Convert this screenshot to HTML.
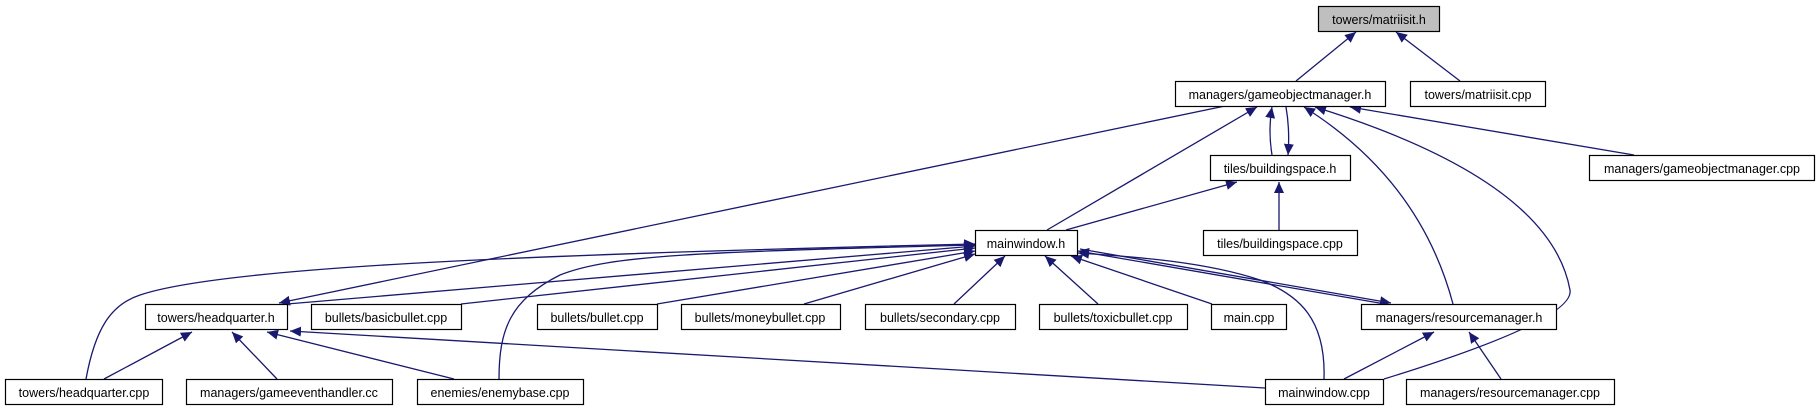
<!DOCTYPE html>
<html><head><meta charset="utf-8"><style>
html,body{margin:0;padding:0;background:#fff;}
svg{display:block;}
text{font-family:"Liberation Sans",sans-serif;font-size:12.5px;fill:#000;}
</style></head><body>
<svg width="1819" height="411" viewBox="0 0 1819 411" xmlns="http://www.w3.org/2000/svg">
<defs>
<marker id="a" markerWidth="12" markerHeight="10" refX="11" refY="5" orient="auto" markerUnits="userSpaceOnUse">
<path d="M0,0 L11,5 L0,10 Z" fill="#191970"/>
</marker>
</defs>
<g fill="none" stroke="#191970" stroke-width="1.3" marker-end="url(#a)">
<path d="M1296,81 L1356,32"/>
<path d="M1460,81 L1396,32"/>
<path d="M1225,106 L279,303"/>
<path d="M1047,230 L1257,107"/>
<path d="M1272,155 Q1268,130 1272,107"/>
<path d="M1286,107 Q1290,130 1288,155"/>
<path d="M1453,304 Q1420,180 1304,107"/>
<path d="M1384,379 Q1575,320 1570,290 Q1550,180 1315,107"/>
<path d="M1634,155 L1350,107"/>
<path d="M1066,230 L1237,182"/>
<path d="M1279,230 L1279,182"/>
<path d="M287,304 L975,246"/>
<path d="M86,379 C95,330 110,305 140,295 C220,268 500,255 975,244"/>
<path d="M499,379 C499,330 510,300 560,275 C610,255 700,252 975,245"/>
<path d="M461,304 L975,248"/>
<path d="M657,304 L975,251"/>
<path d="M804,304 L975,254"/>
<path d="M954,304 L1005,256"/>
<path d="M1098,304 L1045,256"/>
<path d="M1212,304 L1071,256"/>
<path d="M1385,304 L1078,251"/>
<path d="M1080,249 L1391,303"/>
<path d="M1324,379 C1326,320 1300,295 1260,280 C1200,260 1120,256 1078,253"/>
<path d="M104,379 L192,332"/>
<path d="M277,379 L232,332"/>
<path d="M454,379 L267,332"/>
<path d="M1265,388 L290,331"/>
<path d="M1344,379 L1434,332"/>
<path d="M1501,379 L1469,332"/>
</g>
<g stroke="#000" stroke-width="1.2">
<rect x="1318.5" y="6.5" width="121" height="25" fill="#bfbfbf"/>
<rect x="1175.5" y="81.5" width="210" height="25" fill="#fff"/>
<rect x="1410.5" y="81.5" width="135" height="25" fill="#fff"/>
<rect x="1210.5" y="155.5" width="140" height="25" fill="#fff"/>
<rect x="1589.5" y="155.5" width="225" height="25" fill="#fff"/>
<rect x="975.5" y="230.5" width="102" height="25" fill="#fff"/>
<rect x="1203.5" y="230.5" width="154" height="25" fill="#fff"/>
<rect x="145.5" y="304.5" width="142" height="25" fill="#fff"/>
<rect x="311.5" y="304.5" width="150" height="25" fill="#fff"/>
<rect x="537.5" y="304.5" width="120" height="25" fill="#fff"/>
<rect x="681.5" y="304.5" width="159" height="25" fill="#fff"/>
<rect x="865.5" y="304.5" width="150" height="25" fill="#fff"/>
<rect x="1039.5" y="304.5" width="148" height="25" fill="#fff"/>
<rect x="1211.5" y="304.5" width="75" height="25" fill="#fff"/>
<rect x="1361.5" y="304.5" width="195" height="25" fill="#fff"/>
<rect x="5.5" y="379.5" width="157" height="25" fill="#fff"/>
<rect x="186.5" y="379.5" width="206" height="25" fill="#fff"/>
<rect x="417.5" y="379.5" width="166" height="25" fill="#fff"/>
<rect x="1265.5" y="379.5" width="118" height="25" fill="#fff"/>
<rect x="1406.5" y="379.5" width="208" height="25" fill="#fff"/>
</g>
<g text-anchor="middle">
<text x="1379" y="24">towers/matriisit.h</text>
<text x="1280" y="99">managers/gameobjectmanager.h</text>
<text x="1478" y="99">towers/matriisit.cpp</text>
<text x="1280" y="173">tiles/buildingspace.h</text>
<text x="1702" y="173">managers/gameobjectmanager.cpp</text>
<text x="1026" y="248">mainwindow.h</text>
<text x="1280" y="248">tiles/buildingspace.cpp</text>
<text x="216" y="322">towers/headquarter.h</text>
<text x="386" y="322">bullets/basicbullet.cpp</text>
<text x="597" y="322">bullets/bullet.cpp</text>
<text x="760" y="322">bullets/moneybullet.cpp</text>
<text x="940" y="322">bullets/secondary.cpp</text>
<text x="1113" y="322">bullets/toxicbullet.cpp</text>
<text x="1249" y="322">main.cpp</text>
<text x="1459" y="322">managers/resourcemanager.h</text>
<text x="84" y="397">towers/headquarter.cpp</text>
<text x="289" y="397">managers/gameeventhandler.cc</text>
<text x="500" y="397">enemies/enemybase.cpp</text>
<text x="1324" y="397">mainwindow.cpp</text>
<text x="1510" y="397">managers/resourcemanager.cpp</text>
</g>
</svg>
</body></html>
